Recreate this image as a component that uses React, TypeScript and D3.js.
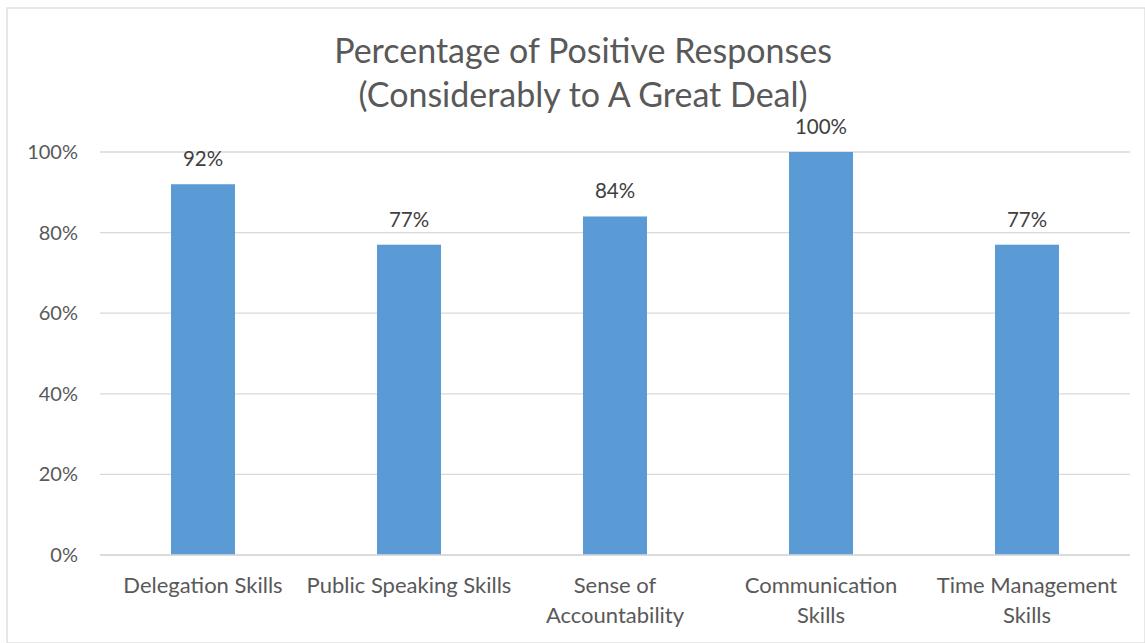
import React from "react";
import * as d3 from "d3";

const categories: string[][] = [
  ["Delegation Skills"],
  ["Public Speaking Skills"],
  ["Sense of", "Accountability"],
  ["Communication", "Skills"],
  ["Time Management", "Skills"],
];
const values: number[] = [0.92, 0.77, 0.84, 1.0, 0.77];
const yTicks: number[] = [0, 0.2, 0.4, 0.6, 0.8, 1.0];
const titleLines: string[] = ["Percentage of Positive Responses", "(Considerably to A Great Deal)"];

const W = 1145;
const H = 643;
const FONT = "Lato, 'Open Sans', sans-serif";

export default function App() {
  const margin = { left: 100, right: 15, top: 152, bottom: 88 };
  const y = d3.scaleLinear().domain([0, 1]).range([H - margin.bottom, margin.top]);
  const x = d3
    .scalePoint<number>()
    .domain(d3.range(values.length))
    .range([margin.left, W - margin.right])
    .padding(0.5);
  const fmt = d3.format(".0%");
  const barW = 64;

  return (
    <svg
      width={W}
      height={H}
      style={{ position: "absolute", left: 0, top: 0, background: "#fff" }}
      fontFamily={FONT}
    >
      <rect x={7} y={8} width={W - 7} height={H - 8} fill="#fff" stroke="#D9D9D9" strokeWidth={1.2} />
      {titleLines.map((t, i) => (
        <text key={i} x={583} y={63 + i * 44} textAnchor="middle" fontSize={34} fill="#595959">
          {t}
        </text>
      ))}
      {yTicks.map((t) => (
        <g key={t}>
          <line x1={margin.left} x2={W - margin.right} y1={y(t)} y2={y(t)} stroke="#D9D9D9" strokeWidth={1.3} />
          <text x={78} y={y(t)} dy="0.35em" textAnchor="end" fontSize={20} fill="#595959">
            {fmt(t)}
          </text>
        </g>
      ))}
      {values.map((v, i) => (
        <g key={i}>
          <rect x={(x(i) as number) - barW / 2} y={y(v)} width={barW} height={y(0) - y(v)} fill="#5B9BD5" />
          <text x={x(i) as number} y={y(v) - 18} textAnchor="middle" fontSize={20.5} fill="#404040">
            {fmt(v)}
          </text>
        </g>
      ))}
      <line x1={margin.left} x2={W - margin.right} y1={y(0)} y2={y(0)} stroke="#D9D9D9" strokeWidth={1.3} />
      {categories.map((lines, i) =>
        lines.map((l, j) => (
          <text key={i + "-" + j} x={x(i) as number} y={593 + j * 30} textAnchor="middle" fontSize={22} fill="#595959">
            {l}
          </text>
        ))
      )}
    </svg>
  );
}
